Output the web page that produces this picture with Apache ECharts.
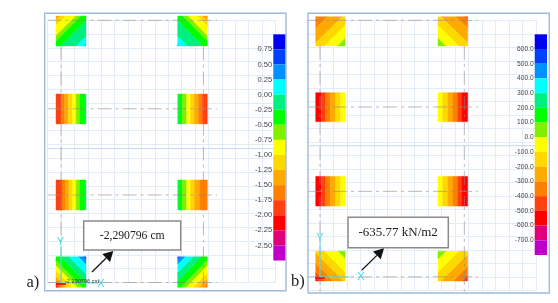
<!DOCTYPE html>
<html><head><meta charset="utf-8">
<style>html,body{margin:0;padding:0;background:#fff}#c{width:558px;height:303px;filter:blur(.45px)}</style>
<script src="https://cdn.jsdelivr.net/npm/echarts@6/dist/echarts.min.js"></script>
</head><body><div id="c"></div>
<script>
// colour scale: 15 bins from the top of the legend down
const palette=['#0000f0','#0040ff','#0090ff','#00ffff','#00f080','#00ff00','#80f000','#ffff00','#ffd800','#ffaa00','#ff8000','#ff4010','#ff0000','#e0007a','#c000c8'];
const scaleA=[-2.75,1.0], scaleB=[-800,700];

// Panel a) deflection, cm: band values and the fraction where each band ends
const aTopLeft=[-1.375,-1.125,-0.875,-0.625,-0.375,-0.125,0.125,0.375];
const aTopLeftEnd=[0.07,0.16,0.33,0.42,0.58,0.84,0.98,1];
const aTopRight=[-1.625,-1.375,-1.125,-0.875,-0.625,-0.375,-0.125,0.125,0.375];
const aTopRightEnd=[0.03,0.09,0.17,0.33,0.42,0.58,0.84,0.98,1];
const aRow2Left=[-1.875,-1.625,-1.375,-1.125,-0.875,-0.625,-0.375,-0.125];
const aRow2LeftEnd=[0.18,0.29,0.41,0.55,0.67,0.8,0.97,1];
const aRow2Right=[-0.125,-0.375,-0.625,-0.875,-1.125,-1.375,-1.625,-1.875];
const aRow2RightEnd=[0.03,0.16,0.3,0.43,0.56,0.7,0.83,1];
const aRow3Left=[-1.875,-1.625,-1.375,-1.125,-0.875,-0.625,-0.375,-0.125];
const aRow3LeftEnd=[0.2,0.31,0.43,0.55,0.67,0.8,0.97,1];
const aRow3Right=[-0.125,-0.375,-0.625,-0.875,-1.125,-1.375,-1.625];
const aRow3RightEnd=[0.03,0.16,0.3,0.43,0.56,0.75,1];
const aBottomLeft=[-2.125,-1.875,-1.625,-1.375,-1.125,-0.875,-0.625,-0.375,-0.125,0.125,0.375,0.625];
const aBottomLeftEnd=[0.03,0.07,0.12,0.18,0.27,0.36,0.44,0.58,0.72,0.88,0.97,1];
const aBottomRight=[-1.625,-1.375,-1.125,-0.875,-0.625,-0.375,-0.125,0.125,0.375,0.625];
const aBottomRightEnd=[0.07,0.15,0.24,0.36,0.45,0.6,0.74,0.88,0.97,1];

// Panel b) pressure, kN/m2
const bTopLeft=[-350,-250,-150,-50,50];
const bTopLeftEnd=[0.2,0.45,0.65,0.87,1];
const bTopRight=[-450,-350,-250,-150,-50,50];
const bTopRightEnd=[0.05,0.2,0.45,0.65,0.87,1];
const bRow2Left=[-550,-450,-350,-250,-150,-50];
const bRow2LeftEnd=[0.19,0.34,0.5,0.67,0.84,1];
const bRow2Right=[-50,-150,-250,-350,-450,-550];
const bRow2RightEnd=[0.16,0.33,0.5,0.66,0.81,1];
const bRow3Left=[-550,-450,-350,-250,-150,-50];
const bRow3LeftEnd=[0.19,0.34,0.5,0.67,0.84,1];
const bRow3Right=[-50,-150,-250,-350,-450,-550];
const bRow3RightEnd=[0.16,0.33,0.5,0.66,0.81,1];
const bBottomLeft=[-550,-450,-350,-250,-150,-50,50];
const bBottomLeftEnd=[0.05,0.15,0.3,0.47,0.65,0.88,1];
const bBottomRight=[-450,-350,-250,-150,-50,50];
const bBottomRightEnd=[0.1,0.25,0.45,0.65,0.87,1];

// field direction in a pad: t = a*u + b*v + c (u right, v down)
const DIR={LR:[1,0,0],RL:[-1,0,1],TLBR:[.5,.5,0],TRBL:[-.5,.5,.5],BLTR:[.5,-.5,.5],BRTL:[-.5,-.5,1]};

const padsA=[
 [-.373,1.866,-.31,1.86,'TLBR',aTopLeft,aTopLeftEnd],
 [8.71,10.92,-.31,1.86,'TRBL',aTopRight,aTopRightEnd],
 [-.373,1.866,5.34,7.51,'LR',aRow2Left,aRow2LeftEnd],
 [8.71,10.92,5.34,7.51,'LR',aRow2Right,aRow2RightEnd],
 [-.373,1.866,11.57,13.75,'LR',aRow3Left,aRow3LeftEnd],
 [8.71,10.92,11.57,13.75,'LR',aRow3Right,aRow3RightEnd],
 [-.373,1.866,17.13,19.35,'BLTR',aBottomLeft,aBottomLeftEnd],
 [8.71,10.92,17.13,19.35,'BRTL',aBottomRight,aBottomRightEnd]];
const padsB=[
 [-.32,1.87,-.27,1.9,'TLBR',bTopLeft,bTopLeftEnd],
 [8.74,10.94,-.27,1.9,'TRBL',bTopRight,bTopRightEnd],
 [-.32,1.87,5.36,7.51,'LR',bRow2Left,bRow2LeftEnd],
 [8.74,10.94,5.36,7.51,'LR',bRow2Right,bRow2RightEnd],
 [-.32,1.87,11.56,13.76,'LR',bRow3Left,bRow3LeftEnd],
 [8.74,10.94,11.56,13.76,'LR',bRow3Right,bRow3RightEnd],
 [-.32,1.87,17.11,19.31,'BLTR',bBottomLeft,bBottomLeftEnd],
 [8.74,10.94,17.11,19.31,'BRTL',bBottomRight,bBottomRightEnd]];

// structural axis lines, in grid units
const vAxesA=[0,10.63], hAxesA=[0,6.41,12.66,19];
const vAxesB=[0,10.69], hAxesB=[0,6.42,12.67,19];

function binColor(v,scale){
  const step=(scale[1]-scale[0])/palette.length;
  let i=Math.floor((scale[1]-v)/step);
  return palette[Math.max(0,Math.min(palette.length-1,i))];
}
function padData(pads){
  const out=[];
  pads.forEach(p=>{
    let t0=0;
    p[5].forEach((v,i)=>{
      out.push({value:[p[0],p[1],p[2],p[3],t0,p[6][i],v],dir:p[4]});
      t0=p[6][i];
    });
  });
  return out;
}
function clip(poly,a,b,c,lo,hi){
  function cut(pts,f){
    const r=[];
    for(let i=0;i<pts.length;i++){
      const P=pts[i],Q=pts[(i+1)%pts.length],fp=f(P),fq=f(Q);
      if(fp>=0)r.push(P);
      if(fp*fq<0){const s=fp/(fp-fq);r.push([P[0]+s*(Q[0]-P[0]),P[1]+s*(Q[1]-P[1])]);}
    }
    return r;
  }
  const T=p=>a*p[0]+b*p[1]+c;
  return cut(cut(poly,p=>T(p)-lo),p=>hi-T(p));
}
function padSeries(pads,scale,axis){
  const data=padData(pads);
  return {type:'custom',xAxisIndex:axis,yAxisIndex:axis,z:3,clip:false,silent:true,data:data,
    renderItem(params,api){
      const d=data[params.dataIndex],[x0,x1,y0,y1,t0,t1,v]=d.value,[a,b,c]=DIR[d.dir];
      const poly=clip([[0,0],[1,0],[1,1],[0,1]],a,b,c,t0,t1);
      const col=binColor(v,scale);
      return {type:'polygon',shape:{points:poly.map(p=>api.coord([x0+p[0]*(x1-x0),y0+p[1]*(y1-y0)]))},
        style:{fill:col,stroke:col,lineWidth:.4}};
    }};
}
function barSeries(scale,axis){
  const step=(scale[1]-scale[0])/palette.length;
  const data=palette.map((c,i)=>[0,1,scale[1]-i*step,scale[1]-(i+1)*step,i]);
  return {type:'custom',xAxisIndex:axis,yAxisIndex:axis,z:3,silent:true,clip:false,data:data,
    encode:{x:[0,1],y:[2,3]},
    renderItem(params,api){
      const p0=api.coord([api.value(0),api.value(2)]),p1=api.coord([api.value(1),api.value(3)]);
      return {type:'rect',shape:{x:p0[0],y:p0[1],width:p1[0]-p0[0],height:p1[1]-p0[1]},
        style:{fill:palette[api.value(4)]}};
    }};
}
function axisLines(axis,vs,hs,xEnds,yEnds){
  const style={color:'rgba(140,140,140,.6)',width:1,type:[14,4,3,4]};
  const common={type:'line',xAxisIndex:axis,yAxisIndex:axis,symbol:'none',silent:true,clip:false,z:4,lineStyle:style,animation:false};
  return vs.map(x=>Object.assign({},common,{data:[[x,yEnds[0]],[x,yEnds[1]]]}))
    .concat(hs.map(y=>Object.assign({},common,{data:[[xEnds[0],y],[xEnds[1],y]]})));
}
function centerLine(axis,y,x0,x1){
  return {type:'line',xAxisIndex:axis,yAxisIndex:axis,symbol:'none',silent:true,clip:false,z:2,
    lineStyle:{color:'#c6d9ee',width:1},data:[[x0,y],[x1,y]]};
}
const mesh=(min,max)=>({type:'value',min:min,max:max,interval:1,
  axisLine:{show:false},axisTick:{show:false},axisLabel:{show:false},
  splitLine:{show:true,lineStyle:{color:'#e3edf8',width:1}}});
const barX={type:'value',min:0,max:1,show:false,gridIndex:0};
function barY(scale,step,dec,grid){
  return {type:'value',gridIndex:grid,min:scale[0],max:scale[1],interval:step,
    axisLine:{show:false},axisTick:{show:false},splitLine:{show:false},
    axisLabel:{showMinLabel:false,showMaxLabel:false,margin:1,color:'#444',
      fontFamily:'Liberation Sans',fontSize:dec===2?7.6:6.7,
      formatter:v=>v.toFixed(dec)}};
}
const panelAxes=[
  {left:47.6,top:20.3,width:227.8,height:262.2},
  {left:306.5,top:20.3,width:229.5,height:270},
  {left:273.3,top:34.3,width:12.4,height:226.2},
  {left:534.7,top:34.3,width:12.3,height:220.7}];

const frame=(x0,y0,x1,y1)=>({type:'rect',shape:{x:x0,y:y0,width:x1-x0,height:y1-y0},silent:true,z:5,
  style:{fill:'none',stroke:'#9dbbdc',lineWidth:1.4}});
const callout=(x0,y0,x1,y1,txt,size)=>[
  {type:'rect',shape:{x:x0,y:y0,width:x1-x0,height:y1-y0},z:8,style:{fill:'#fff',stroke:'#8a8a8a',lineWidth:1.5}},
  {type:'text',x:(x0+x1)/2,y:(y0+y1)/2,z:9,style:{text:txt,fill:'#222',font:size+'px "Liberation Serif"',align:'center',verticalAlign:'middle'}}];
const arrow=(x0,y0,x1,y1)=>{
  const L=Math.hypot(x1-x0,y1-y0),ux=(x1-x0)/L,uy=(y1-y0)/L,h=10,w=5.5;
  const bx=x1-ux*h,by=y1-uy*h;
  return [
   {type:'line',shape:{x1:x0,y1:y0,x2:bx,y2:by},z:8,style:{stroke:'#111',lineWidth:1.2}},
   {type:'polygon',shape:{points:[[x1,y1],[bx-uy*w,by+ux*w],[bx+uy*w,by-ux*w]]},z:8,style:{fill:'#111'}}];
};
const label=(x,y,t)=>({type:'text',x:x,y:y,z:9,style:{text:t,fill:'#222',font:'16.5px "Liberation Serif"',align:'left',verticalAlign:'middle'}});
const glyph=(x,y,t)=>({type:'text',x:x,y:y,z:7,style:{text:t,fill:'#45d6e6',font:'11px "Liberation Sans"',align:'center',verticalAlign:'middle'}});
const cyan=(x0,y0,x1,y1)=>({type:'line',shape:{x1:x0,y1:y0,x2:x1,y2:y1},z:6,style:{stroke:'#62dce8',lineWidth:1}});

const chart=echarts.init(document.getElementById('c'),null,{renderer:'canvas',width:558,height:303});
chart.setOption({
  animation:false,backgroundColor:'#fff',
  grid:panelAxes,
  xAxis:[
    Object.assign(mesh(-1,16),{gridIndex:0}),
    Object.assign(mesh(-1,16),{gridIndex:1,splitLine:{show:true,showMinLine:false,lineStyle:{color:'#e3edf8',width:1}}}),
    Object.assign({},barX,{gridIndex:2}),
    Object.assign({},barX,{gridIndex:3})],
  yAxis:[
    Object.assign(mesh(0,19),{gridIndex:0,inverse:true}),
    Object.assign(mesh(0,20),{gridIndex:1,inverse:true}),
    barY(scaleA,0.25,2,2),
    barY(scaleB,100,1,3)],
  series:[
    padSeries(padsA,scaleA,0),
    padSeries(padsB,scaleB,1),
    barSeries(scaleA,2),
    barSeries(scaleB,3),
    centerLine(0,9.29,-1.2,16.9),
    centerLine(1,9.29,-.85,16.9)
  ].concat(axisLines(0,vAxesA,hAxesA,[-1,11.64],[1.9,19.6]))
   .concat(axisLines(1,vAxesB,hAxesB,[-.89,11.7],[1.9,20.1])),
  graphic:{elements:[
    frame(44.7,13.3,286,290.7),
    frame(308,13.3,549.3,293)
  ].concat(
    callout(83.7,221,180.7,250,'-2,290796 cm',11.7),
    callout(348,217.3,448.3,247.7,'-635.77 kN/m2',13),
    arrow(92,272,113.3,251),
    arrow(361.7,270.3,384,248.3),
    [label(26.5,282.7,'a)'),label(291,282,'b)'),
     cyan(61,246,61,283),cyan(61,283,98,283),glyph(60.5,242,'Y'),glyph(101,283.5,'X'),
     cyan(320,241,320,277),cyan(320,277,350,277),glyph(320,237.5,'Y'),glyph(361,277,'X'),
     {type:'text',x:65,y:281.5,z:7,style:{text:'-2.290796 cm',fill:'#333',font:'5.6px "Liberation Sans"',align:'left',verticalAlign:'middle'}},
     {type:'line',shape:{x1:56,y1:284,x2:66,y2:284},z:6,style:{stroke:'#e0002a',lineWidth:1.6}},
     {type:'line',shape:{x1:315,y1:278,x2:325,y2:278},z:6,style:{stroke:'#e0002a',lineWidth:1.4}}]
  )}
});
</script></body></html>
